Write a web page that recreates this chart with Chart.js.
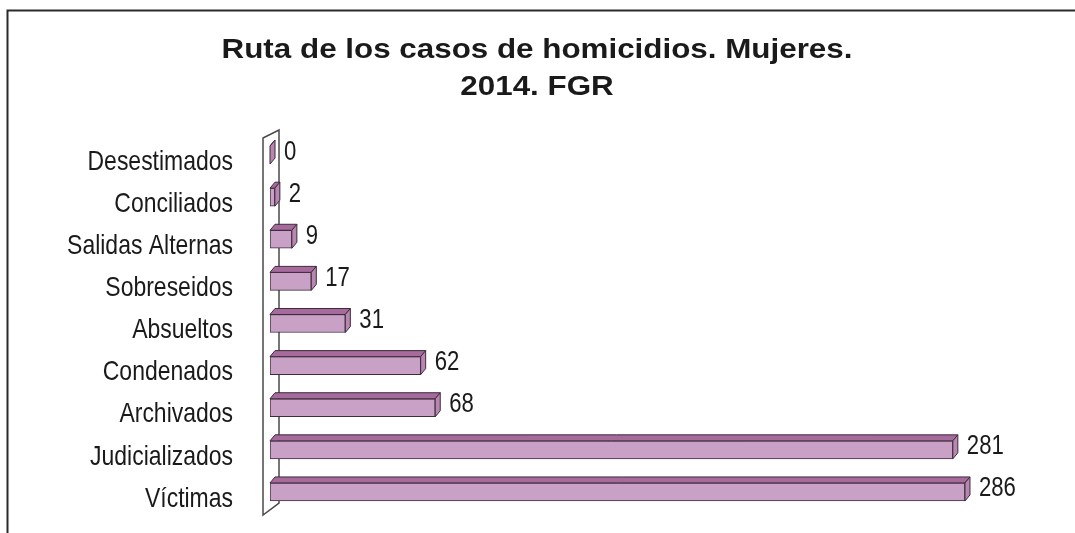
<!DOCTYPE html>
<html>
<head>
<meta charset="utf-8">
<script src="https://cdn.jsdelivr.net/npm/chart.js@4"></script>
<style>
  html, body { margin: 0; padding: 0; background: #fff; }
  #wrap { width: 1075px; height: 533px; position: relative; }
</style>
</head>
<body>
<div id="wrap"><canvas id="chart"></canvas></div>
<script>
// Ruta de los casos de homicidios - Mujeres 2014 (FGR)
const titleLines = ['Ruta de los casos de homicidios. Mujeres.', '2014. FGR'];
const categories = ['Desestimados', 'Conciliados', 'Salidas Alternas', 'Sobreseidos',
  'Absueltos', 'Condenados', 'Archivados', 'Judicializados', 'Víctimas'];
const casos = [0, 2, 9, 17, 31, 62, 68, 281, 286];

const SANS = "'Liberation Sans', Arial, sans-serif";
const FRONT = '#c9a0c6';
const TOP = '#a66a9c';
const SIDE = '#b886b3';
const EDGE = '#3d2c3b';
const DX = 5, DY = 6;

// narrow look: regular sans squeezed horizontally
function narrowText(ctx, text, x, y, size, align, sx) {
  ctx.save();
  ctx.font = size + 'px ' + SANS;
  ctx.textAlign = align;
  ctx.textBaseline = 'middle';
  ctx.translate(x, y);
  ctx.scale(sx, 1);
  ctx.fillText(text, 0, 0);
  ctx.restore();
}

// frame + title
const framePlugin = {
  id: 'frame',
  beforeDraw(chart) {
    const ctx = chart.ctx;
    ctx.save();
    ctx.strokeStyle = '#2b2b2b';
    ctx.lineWidth = 2;
    ctx.beginPath();
    ctx.moveTo(7.5, 533);
    ctx.lineTo(7.5, 10.5);
    ctx.lineTo(1075, 10.5);
    ctx.stroke();

    ctx.fillStyle = '#1a1a1a';
    ctx.font = 'bold 28px ' + SANS;
    ctx.textAlign = 'center';
    ctx.textBaseline = 'alphabetic';
    [58, 95].forEach((y, i) => {
      ctx.save();
      ctx.translate(537, y);
      ctx.scale(1.12, 1);
      ctx.fillText(titleLines[i], 0, 0);
      ctx.restore();
    });
    ctx.restore();
  }
};

// side wall of the 3D plot + category labels
const wallPlugin = {
  id: 'wall',
  beforeDatasetsDraw(chart) {
    const { ctx, chartArea } = chart;
    const l = chartArea.left;
    const t = chartArea.top, b = chartArea.bottom;
    ctx.save();
    ctx.strokeStyle = '#4a4a4a';
    ctx.lineWidth = 1.5;
    ctx.beginPath();
    ctx.moveTo(l - 7, t + 4);
    ctx.lineTo(l + 9, t - 4);
    ctx.lineTo(l + 9, b - 10);
    ctx.lineTo(l - 7, b + 2);
    ctx.closePath();
    ctx.stroke();

    const yScale = chart.scales.y;
    ctx.fillStyle = '#1a1a1a';
    categories.forEach((c, i) => {
      narrowText(ctx, c, l - 37, yScale.getPixelForTick(i) + 7, 28, 'right', 0.82);
    });
    ctx.restore();
  }
};

// top face, end cap and value labels for each bar
const barsPlugin = {
  id: 'bars3d',
  afterDatasetsDraw(chart) {
    const ctx = chart.ctx;
    const meta = chart.getDatasetMeta(0);
    ctx.save();
    ctx.lineWidth = 1;
    ctx.strokeStyle = EDGE;
    ctx.lineJoin = 'round';
    meta.data.forEach((bar, i) => {
      const p = bar.getProps(['x', 'y', 'base', 'height'], true);
      const top = p.y - p.height / 2, bot = p.y + p.height / 2;
      const x0 = p.base, x1 = p.x;

      ctx.fillStyle = TOP;
      ctx.beginPath();
      ctx.moveTo(x0, top);
      ctx.lineTo(x0 + DX, top - DY);
      ctx.lineTo(x1 + DX, top - DY);
      ctx.lineTo(x1, top);
      ctx.closePath();
      ctx.fill();
      ctx.stroke();

      ctx.fillStyle = SIDE;
      ctx.beginPath();
      ctx.moveTo(x1, top);
      ctx.lineTo(x1 + DX, top - DY);
      ctx.lineTo(x1 + DX, bot - DY);
      ctx.lineTo(x1, bot);
      ctx.closePath();
      ctx.fill();
      ctx.stroke();

      ctx.fillStyle = '#1a1a1a';
      narrowText(ctx, String(casos[i]), x1 + 14, p.y - 3, 27, 'left', 0.82);
    });
    ctx.restore();
  }
};

new Chart(document.getElementById('chart'), {
  type: 'bar',
  data: {
    labels: categories,
    datasets: [{
      data: casos,
      backgroundColor: FRONT,
      borderColor: EDGE,
      borderWidth: 1,
      barThickness: 18,
      borderSkipped: false
    }]
  },
  options: {
    indexAxis: 'y',
    responsive: true,
    maintainAspectRatio: false,
    animation: false,
    layout: { padding: { left: 0, right: 76, top: 134, bottom: 20 } },
    plugins: {
      legend: { display: false },
      tooltip: { enabled: false },
      title: { display: false }
    },
    scales: {
      x: { display: false, min: 0, max: 300 },
      y: {
        afterFit(scale) {
          scale.width = 270;
          scale.paddingTop = 0;
          scale.paddingBottom = 0;
        },
        grid: { display: false, drawTicks: false },
        border: { display: false },
        ticks: { display: false }
      }
    }
  },
  plugins: [framePlugin, wallPlugin, barsPlugin]
});
</script>
</body>
</html>
